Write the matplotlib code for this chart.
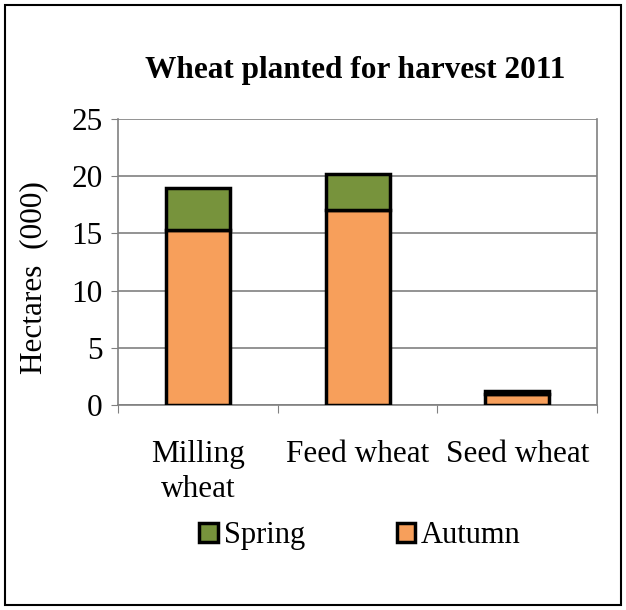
import matplotlib.pyplot as plt
import numpy as np
from matplotlib.patches import Rectangle

categories = ["Milling\nwheat", "Feed wheat", "Seed wheat"]
autumn = [15.3, 17.0, 1.0]
spring = [3.7, 3.2, 0.2]

plt.rcParams['font.family'] = ['Liberation Serif', 'DejaVu Serif']

fig = plt.figure(figsize=(6.26, 6.10), dpi=100)
ax = fig.add_axes([0.1885, 0.336, 0.7655, 0.469])

x = np.arange(len(categories))
ax.bar(x, autumn, width=0.4, color="#F79F5B", edgecolor="black", linewidth=2.5,
       label="Autumn", zorder=3)
ax.bar(x, spring, width=0.4, bottom=autumn, color="#77933C", edgecolor="black",
       linewidth=2.5, label="Spring", zorder=3)

ax.set_xlim(-0.5, 2.5)
ax.set_ylim(0, 25)
ax.set_yticks(range(0, 26, 5))
ax.yaxis.grid(True, color="#808080", linewidth=1.2, zorder=0)
ax.set_xticks([-0.5, 0.5, 1.5, 2.5], minor=False)
ax.set_xticklabels([])
ax.set_xticks(x, minor=True)
ax.set_xticklabels(categories, minor=True, fontsize=22.5, linespacing=1.3)
ax.tick_params(axis="x", which="minor", length=0, pad=25)
ax.tick_params(axis="x", which="major", length=6, color="#808080", direction="out")
ax.tick_params(axis="y", labelsize=22.5, length=5, color="#808080", pad=6)
for s in ax.spines.values():
    s.set_color("#808080")
    s.set_linewidth(1.2)
ax.spines["top"].set_visible(False)

ax.set_ylabel("Hectares  (000)", fontsize=22.5)
ax.yaxis.set_label_coords(-0.146, 0.444)
fig.text(0.567, 0.885, "Wheat planted for harvest 2011", ha="center", va="center",
         fontsize=22.5, fontweight="bold")

h, l = ax.get_legend_handles_labels()
fig.legend(h[::-1], l[::-1], loc="center", bbox_to_anchor=(0.575, 0.122), ncol=2,
           frameon=False, fontsize=22, handlelength=0.6, handleheight=0.6,
           handletextpad=0.2, columnspacing=3.0)

fig.patches.append(Rectangle((0.008, 0.008), 0.984, 0.984, transform=fig.transFigure,
                             fill=False, edgecolor="black", linewidth=1.5))

fig.savefig("out.png", dpi=100)
